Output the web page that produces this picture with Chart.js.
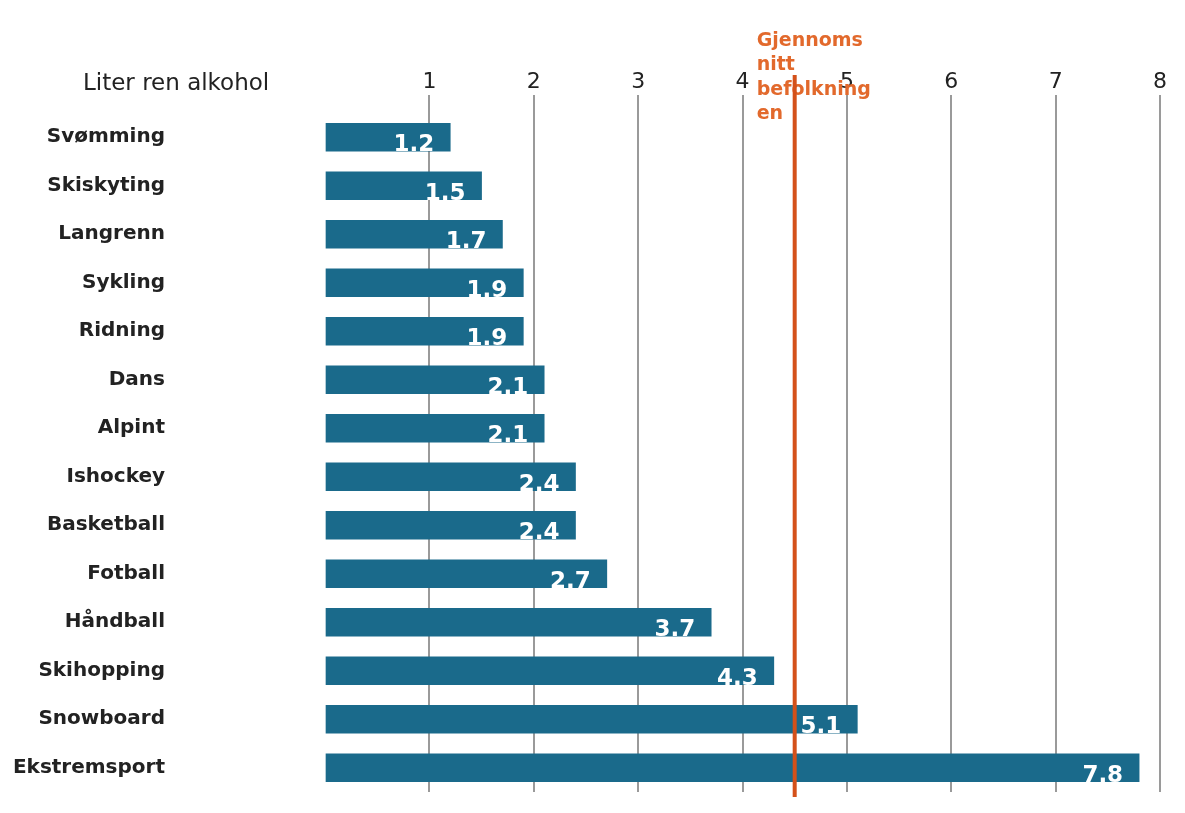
<!DOCTYPE html>
<html>
<head>
<meta charset="utf-8">
<script src="https://cdn.jsdelivr.net/npm/chart.js@4.4.1/dist/chart.umd.min.js"></script>
<style>
    html, body { margin: 0; padding: 0; background: #ffffff; }
    canvas { display: block; }
</style>
</head>
<body>
<canvas id="chart" width="1185" height="813"></canvas>
<script>
const categories = [
    "Svømming", "Skiskyting", "Langrenn", "Sykling", "Ridning", "Dans", "Alpint",
    "Ishockey", "Basketball", "Fotball", "Håndball", "Skihopping", "Snowboard", "Ekstremsport"
];
const litres = [1.2, 1.5, 1.7, 1.9, 1.9, 2.1, 2.1, 2.4, 2.4, 2.7, 3.7, 4.3, 5.1, 7.8];
const populationAverage = 4.5;
const averageLabelLines = ["Gjennoms", "nitt", "befolkning", "en"];
const axisLabel = "Liter ren alkohol";

const COLORS = {
    bar: "#1a6a8b",
    grid: "#9a9a9a",
    text: "#222222",
    avgLine: "#d4511a",
    avgText: "#e2692c"
};

// white value text near the end of every bar
const barValues = {
    id: "barValues",
    afterDatasetsDraw(chart) {
        const ctx = chart.ctx;
        const meta = chart.getDatasetMeta(0);
        ctx.save();
        ctx.fillStyle = "#ffffff";
        ctx.font = "bold 23px 'DejaVu Sans'";
        ctx.textAlign = "right";
        ctx.textBaseline = "middle";
        meta.data.forEach((bar, i) => {
            ctx.fillText(litres[i].toFixed(1), bar.x - 16, bar.y + 8);
        });
        ctx.restore();
    }
};

// average line with its wrapped label, plus the axis caption
const averageLine = {
    id: "averageLine",
    afterDatasetsDraw(chart) {
        const ctx = chart.ctx;
        const x = chart.scales.x.getPixelForValue(populationAverage);
        ctx.save();
        ctx.fillStyle = COLORS.avgText;
        ctx.font = "bold 19px 'DejaVu Sans'";
        ctx.textAlign = "left";
        ctx.textBaseline = "middle";
        averageLabelLines.forEach((line, i) => {
            ctx.fillText(line, x - 38, 41 + i * 24.5);
        });
        ctx.strokeStyle = COLORS.avgLine;
        ctx.lineWidth = 4;
        ctx.beginPath();
        ctx.moveTo(x, 75);
        ctx.lineTo(x, 797);
        ctx.stroke();

        ctx.fillStyle = COLORS.text;
        ctx.font = "23px 'DejaVu Sans'";
        ctx.textAlign = "left";
        ctx.fillText(axisLabel, 83, 84);
        ctx.restore();
    }
};

new Chart(document.getElementById("chart"), {
    type: "bar",
    data: {
        labels: categories,
        datasets: [{
            data: litres,
            backgroundColor: COLORS.bar,
            barThickness: 28
        }]
    },
    options: {
        indexAxis: "y",
        responsive: false,
        animation: false,
        layout: { padding: { top: 69, left: 10, right: 25, bottom: 21 } },
        plugins: {
            legend: { display: false },
            tooltip: { enabled: false }
        },
        scales: {
            x: {
                position: "top",
                min: 0,
                max: 8,
                border: { display: false },
                grid: {
                    color: (c) => (c.tick && c.tick.value === 0 ? "transparent" : COLORS.grid),
                    lineWidth: 2,
                    drawTicks: true,
                    tickLength: 18
                },
                ticks: {
                    stepSize: 1,
                    padding: 0,
                    color: COLORS.text,
                    font: { family: "DejaVu Sans", size: 22 },
                    callback: (v) => (v === 0 ? "" : String(v))
                },
                afterFit(scale) {
                    scale.height = 44;
                    scale.paddingLeft = 0;
                    scale.paddingRight = 0;
                }
            },
            y: {
                border: { display: false },
                grid: { display: false, drawTicks: false },
                ticks: {
                    padding: 160,
                    color: COLORS.text,
                    font: { family: "DejaVu Sans", size: 20, weight: "bold" }
                },
                afterFit(scale) {
                    // the big label padding must not eat into the plot height
                    scale.width = 315;
                    scale.paddingTop = 0;
                    scale.paddingBottom = 0;
                }
            }
        }
    },
    plugins: [barValues, averageLine]
});
</script>
</body>
</html>
